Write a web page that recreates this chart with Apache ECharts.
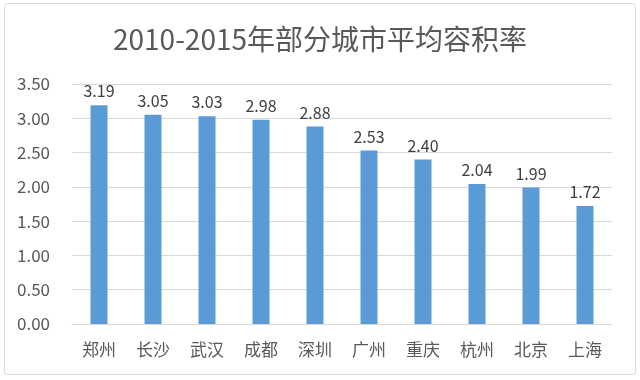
<!DOCTYPE html>
<html><head><meta charset="utf-8">
<script src="https://cdn.jsdelivr.net/npm/echarts@6/dist/echarts.min.js"></script>
<style>html,body{margin:0;padding:0;background:#fff}#c{width:640px;height:380px}</style>
</head><body><div id="c"></div>
<script>
const titleText = '2010-2015年部分城市平均容积率';
const cities = ['郑州','长沙','武汉','成都','深圳','广州','重庆','杭州','北京','上海'];
const values = [3.19,3.05,3.03,2.98,2.88,2.53,2.40,2.04,1.99,1.72];
const yTicks = {min:0, max:3.5, interval:0.5};
const font = '"Noto Sans CJK SC", "Open Sans", sans-serif';
const chart = echarts.init(document.getElementById('c'));
chart.setOption({
  animation:false,
  backgroundColor:'#fff',
  graphic:[{type:'rect',shape:{x:4.5,y:3.5,width:631,height:371,r:3},style:{fill:'none',stroke:'#d9d9d9',lineWidth:1},silent:true}],
  title:{text:titleText,left:'center',top:20,textStyle:{fontFamily:font,fontSize:28,fontWeight:'normal',color:'#595959'}},
  grid:{left:72,right:28,top:84,bottom:56},
  xAxis:{type:'category',data:cities,axisTick:{show:false},
    axisLine:{lineStyle:{color:'#d9d9d9'}},
    axisLabel:{fontFamily:font,fontSize:17,color:'#595959',margin:17}},
  yAxis:{type:'value',min:yTicks.min,max:yTicks.max,interval:yTicks.interval,
    axisLine:{show:false},axisTick:{show:false},
    splitLine:{lineStyle:{color:'#d9d9d9'}},
    axisLabel:{fontFamily:font,fontSize:17,color:'#595959',margin:22,formatter:v=>v.toFixed(2)}},
  series:[{type:'bar',data:values,barWidth:17,itemStyle:{color:'#5B9BD5'},
    label:{show:true,position:'top',distance:6,fontFamily:font,fontSize:16,color:'#404040',formatter:p=>p.value.toFixed(2)}}]
});
</script></body></html>
